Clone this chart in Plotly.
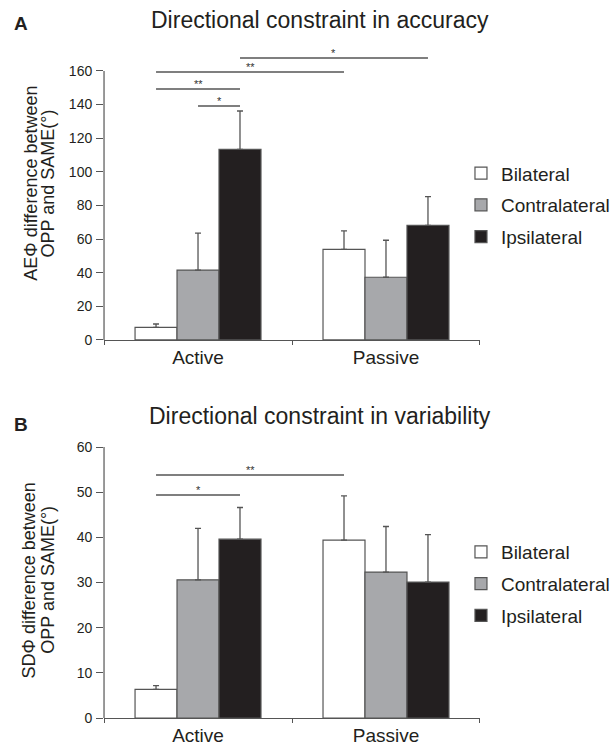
import plotly.graph_objects as go

# ---------------- data ----------------
categories = ["Active", "Passive"]
series_names = ["Bilateral", "Contralateral", "Ipsilateral"]
series_colors = ["#ffffff", "#a7a8ab", "#231f20"]

# Panel A: accuracy (AEΦ difference)
acc_bilateral = [7.5, 53.9]
acc_contralateral = [41.6, 37.3]
acc_ipsilateral = [113.4, 68.2]
acc_err_bilateral = [2.0, 11.0]
acc_err_contralateral = [22.0, 22.0]
acc_err_ipsilateral = [22.8, 17.0]
acc_yticks = [0, 20, 40, 60, 80, 100, 120, 140, 160]

# Panel B: variability (SDΦ difference)
var_bilateral = [6.35, 39.4]
var_contralateral = [30.6, 32.3]
var_ipsilateral = [39.6, 30.1]
var_err_bilateral = [0.8, 9.8]
var_err_contralateral = [11.4, 10.1]
var_err_ipsilateral = [7.0, 10.5]
var_yticks = [0, 10, 20, 30, 40, 50, 60]

# significance brackets: (category a, series a, category b, series b, level, label)
acc_sig = [(0, 1, 0, 2, 139.2, "*"),
           (0, 0, 0, 2, 149.3, "**"),
           (0, 0, 1, 0, 159.4, "**"),
           (0, 2, 1, 2, 167.7, "*")]
var_sig = [(0, 0, 0, 2, 49.4, "*"),
           (0, 0, 1, 0, 53.8, "**")]

# ---------------- style ----------------
FONT = "Liberation Sans, Arial, sans-serif"
TXT = "#231f20"
LINE = "#555555"
BARGAP = 0.33

fig = go.Figure()

panels = [
    ("A", "x", "y", [acc_bilateral, acc_contralateral, acc_ipsilateral],
     [acc_err_bilateral, acc_err_contralateral, acc_err_ipsilateral], "legend"),
    ("B", "x2", "y2", [var_bilateral, var_contralateral, var_ipsilateral],
     [var_err_bilateral, var_err_contralateral, var_err_ipsilateral], "legend2"),
]

for pid, xa, ya, vals, errs, leg in panels:
    for name, color, v, e in zip(series_names, series_colors, vals, errs):
        fig.add_trace(go.Bar(
            x=categories, y=v, name=name, xaxis=xa, yaxis=ya, legend=leg,
            legendgroup=pid + name,
            marker=dict(color=color, line=dict(color=LINE, width=1.2)),
            error_y=dict(type="data", array=e, arrayminus=[0] * len(e), symmetric=False,
                         color=LINE, thickness=1.3, width=3),
        ))


def bar_pos(cat, s):
    w = (1 - BARGAP) / len(series_names)
    return cat + (s - (len(series_names) - 1) / 2) * w


shapes = []
annotations = []
for xa, ya, sig in (("x", "y", acc_sig), ("x2", "y2", var_sig)):
    for ca, sa, cb, sb, lvl, lab in sig:
        xa0, xb0 = bar_pos(ca, sa), bar_pos(cb, sb)
        shapes.append(dict(type="line", xref=xa, yref=ya, x0=xa0, x1=xb0, y0=lvl, y1=lvl,
                           line=dict(color=LINE, width=1.5)))
        annotations.append(dict(xref=xa, yref=ya, x=(xa0 + xb0) / 2, y=lvl, text=lab,
                                showarrow=False, xanchor="center", yanchor="bottom", yshift=-3,
                                font=dict(size=11, color="#333333", family=FONT)))

# hand-drawn y axis lines (range extends above top tick in panel A)
shapes.append(dict(type="line", xref="x domain", yref="y", x0=0, x1=0,
                   y0=acc_yticks[0], y1=acc_yticks[-1], line=dict(color=LINE, width=1.2)))
shapes.append(dict(type="line", xref="x2 domain", yref="y2", x0=0, x1=0,
                   y0=var_yticks[0], y1=var_yticks[-1], line=dict(color=LINE, width=1.2)))


def pann(x, y, text, size, angle=0):
    return dict(xref="paper", yref="paper", x=x, y=y, text=text, textangle=angle,
                xanchor="center", yanchor="middle", showarrow=False,
                font=dict(size=size, color=TXT, family=FONT))


annotations += [
    pann(0.522, 0.973, "Directional constraint in accuracy", 23),
    pann(0.522, 0.444, "Directional constraint in variability", 23),
    pann(0.034, 0.969, "<b>A</b>", 19),
    pann(0.034, 0.433, "<b>B</b>", 19),
    pann(0.050, 0.7553, "AEΦ difference between", 18, -90),
    pann(0.079, 0.7553, "OPP and SAME(°)", 18, -90),
    pann(0.048, 0.2246, "SDΦ difference between", 18, -90),
    pann(0.078, 0.2246, "OPP and SAME(°)", 18, -90),
]

xcommon = dict(type="category", range=[-0.5, 1.5], showline=True, linecolor=LINE, linewidth=1.2,
               ticks="outside", ticklen=4, tickcolor=LINE, tickson="boundaries",
               ticklabelstandoff=0,
               showgrid=False, zeroline=False, domain=[0.1697, 0.783],
               tickfont=dict(size=19, color=TXT, family=FONT))
ycommon = dict(showline=False, ticks="outside", ticklen=7, tickcolor=LINE, tickwidth=1.2,
               ticklabelstandoff=1, showgrid=False, zeroline=False,
               tickfont=dict(size=14, color=TXT, family=FONT))

legcommon = dict(x=0.752, xanchor="left", yanchor="top", bgcolor="rgba(0,0,0,0)",
                 font=dict(size=19, color=TXT, family=FONT), tracegroupgap=4)

fig.update_layout(
    width=613, height=748, autosize=False,
    margin=dict(l=0, r=0, t=0, b=0, autoexpand=False),
    paper_bgcolor="white", plot_bgcolor="white",
    barmode="group", bargap=BARGAP, bargroupgap=0,
    xaxis=dict(xcommon, anchor="y"),
    yaxis=dict(ycommon, anchor="x", range=[0, 172], tickvals=acc_yticks,
               domain=[0.5455, 0.9321]),
    xaxis2=dict(xcommon, anchor="y2"),
    yaxis2=dict(ycommon, anchor="x2", range=[0, 60], tickvals=var_yticks,
                domain=[0.0401, 0.4024]),
    legend=dict(legcommon, y=0.7937),
    legend2=dict(legcommon, y=0.2873),
    shapes=shapes, annotations=annotations,
    showlegend=True,
)

fig.write_html("out.html", config={"displayModeBar": False},
               post_script="document.body.style.margin='0px';document.body.style.overflow='hidden';")
